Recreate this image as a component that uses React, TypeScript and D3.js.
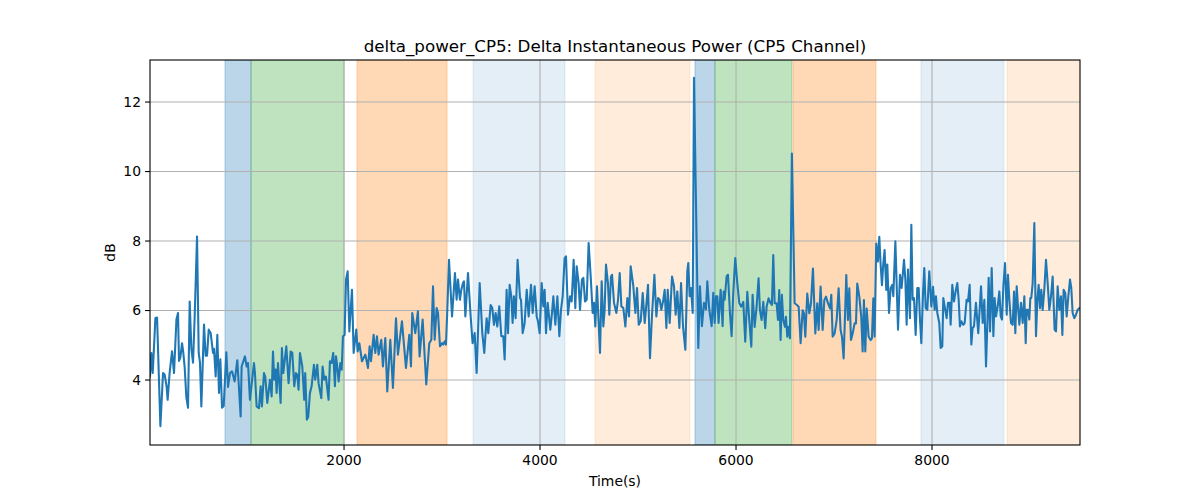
import React from 'react';
import * as d3 from 'd3';

// [time (s), dB]
const samples: [number, number][] = [
  [20, 4.1], [34, 4.78], [48, 4.2], [75, 5.78], [92, 5.8], [126, 2.67], [153, 4.2], [170, 4.15],
  [190, 3.8], [200, 3.43], [220, 4.2], [245, 4.83], [265, 4.2], [290, 5.75], [306, 5.93], [316, 4.55],
  [330, 4.65], [347, 5.06], [360, 4.78], [374, 4.36], [391, 3.5], [408, 3.2], [425, 6.26], [442, 4.9],
  [459, 4.5], [476, 5.83], [500, 8.13], [517, 4.78], [530, 4.5], [544, 3.24], [571, 5.6], [588, 4.7],
  [602, 4.7], [619, 5.45], [639, 5.35], [663, 4.78], [673, 4.9], [690, 4.1], [707, 5.3], [724, 3.63],
  [738, 4.6], [755, 3.2], [772, 3.25], [799, 4.8], [816, 3.8], [836, 4.2], [857, 4.25], [884, 3.96],
  [911, 4.57], [925, 3.9], [945, 2.95],
  [955, 4.39], [989, 4.68], [1006, 4.39], [1020, 4.49], [1040, 3.43], [1081, 4.49], [1091, 4.2],
  [1108, 3.24], [1132, 3.19], [1149, 3.82], [1162, 3.24], [1183, 4.2], [1196, 4.1], [1217, 3.34],
  [1244, 4.01], [1261, 3.53], [1275, 4.82], [1288, 4.01], [1302, 4.3], [1312, 3.63], [1326, 4.49],
  [1353, 3.34], [1366, 4.92], [1380, 4.2], [1411, 4.97], [1434, 3.91], [1455, 4.82], [1472, 4.78],
  [1492, 3.82], [1509, 4.2], [1523, 4.15], [1536, 3.72], [1550, 4.78], [1574, 4.39], [1594, 3.43],
  [1604, 4.2], [1621, 2.86], [1635, 2.95], [1652, 3.63], [1669, 3.82], [1693, 4.44], [1706, 4.01],
  [1727, 4.44], [1740, 3.91], [1768, 3.48], [1781, 4.39], [1798, 4.01], [1815, 4.1], [1842, 3.43],
  [1856, 4.54], [1873, 4.49], [1890, 4.78], [1907, 3.82],
  [1918, 4.68], [1931, 4.39], [1945, 3.96], [1962, 4.49], [1976, 4.3], [1989, 5.26], [2006, 5.3],
  [2020, 6.89], [2037, 7.13], [2054, 5.4], [2081, 6.6], [2098, 4.78], [2125, 5.45], [2139, 4.82],
  [2156, 5.06], [2183, 4.54], [2217, 4.73], [2244, 4.35], [2261, 4.97], [2275, 4.54], [2302, 5.3],
  [2319, 4.78], [2336, 5.26], [2353, 4.73], [2380, 5.16], [2397, 4.39], [2421, 5.21], [2441, 3.67],
  [2472, 5.16], [2499, 3.77], [2530, 5.78], [2550, 4.73], [2591, 5.69], [2632, 4.35], [2666, 5.3],
  [2683, 4.39], [2696, 5.93], [2727, 5.35], [2754, 5.98], [2771, 4.68], [2802, 5.74], [2839, 3.87],
  [2870, 5.06], [2891, 5.16], [2908, 6.7], [2925, 5.16], [2945, 6.07], [2959, 5.93], [2979, 4.97],
  [3000, 5.06], [3013, 5.02], [3027, 5.11], [3040, 5.02], [3054, 6.02], [3071, 7.46], [3102, 5.83],
  [3132, 7.08], [3149, 6.31], [3163, 6.89], [3183, 6.31], [3197, 6.6], [3214, 6.79], [3224, 6.84],
  [3238, 5.83], [3265, 7.08], [3292, 5.83], [3312, 5.06], [3333, 5.35], [3353, 4.2], [3384, 6.79],
  [3411, 5.35], [3431, 4.78], [3455, 5.78], [3472, 5.35], [3496, 6.16], [3513, 6.07], [3530, 5.59],
  [3547, 5.93], [3564, 5.54], [3584, 6.12], [3605, 5.26], [3625, 5.26], [3639, 4.59], [3659, 6.6],
  [3673, 5.35], [3690, 6.74], [3707, 6.41], [3720, 5.64], [3734, 6.41], [3751, 5.78], [3771, 7.46],
  [3796, 6.36], [3806, 6.31], [3823, 5.35], [3843, 5.64], [3864, 6.6], [3884, 5.83], [3908, 6.74],
  [3925, 5.93], [3945, 6.7], [3966, 5.83], [3979, 5.69], [3996, 5.35], [4017, 6.79], [4034, 6.12],
  [4047, 6.6], [4061, 5.35], [4078, 6.22], [4105, 5.45], [4122, 5.93], [4136, 6.41], [4156, 5.59],
  [4177, 6.41], [4197, 5.26], [4214, 6.02], [4231, 6.41], [4251, 7.51], [4265, 7.56], [4285, 5.88],
  [4306, 6.41], [4323, 6.26], [4343, 7.46], [4360, 6.07], [4374, 7.27], [4394, 6.79], [4408, 6.02],
  [4428, 6.89], [4442, 6.94], [4459, 6.26], [4476, 6.31], [4496, 7.94], [4517, 6.98], [4537, 5.93],
  [4551, 6.22], [4564, 5.54], [4581, 6.7], [4612, 4.78], [4629, 6.84], [4646, 5.54], [4659, 6.02],
  [4673, 7.32], [4693, 6.79], [4707, 5.88], [4724, 6.98],
  [4735, 7.03], [4755, 6.22], [4779, 5.93], [4796, 6.31], [4813, 7.08], [4830, 6.12], [4850, 6.07],
  [4871, 5.54], [4891, 6.36], [4908, 5.83], [4925, 7.27], [4952, 6.7], [4973, 5.93], [4990, 6.65],
  [5007, 5.59], [5027, 5.69], [5048, 6.5], [5068, 5.64], [5082, 6.07], [5102, 6.74], [5122, 4.63],
  [5143, 5.88], [5167, 7.03], [5187, 5.83], [5204, 6.36], [5221, 6.31], [5238, 6.02], [5258, 6.31],
  [5272, 6.6], [5289, 5.5], [5303, 6.6], [5323, 5.64], [5347, 6.98], [5367, 6.7], [5384, 5.88],
  [5401, 6.55], [5422, 5.5], [5439, 6.79], [5459, 5.54], [5483, 4.87], [5503, 7.13], [5513, 7.37],
  [5527, 6.41], [5541, 6.65], [5558, 5.93],
  [5571, 12.7], [5615, 4.92], [5632, 6.7], [5652, 5.55], [5673, 6.22], [5693, 6.03], [5707, 6.84],
  [5727, 6.03], [5751, 5.55], [5768, 6.51], [5782, 5.64], [5795, 6.41], [5809, 6.41], [5822, 5.64],
  [5843, 6.6], [5863, 5.55], [5873, 6.55], [5884, 6.31], [5904, 6.98], [5918, 7.03], [5938, 5.93],
  [5955, 5.26], [5972, 6.51], [5992, 7.51], [6013, 6.79], [6033, 6.22],
  [6054, 6.11], [6074, 6.25], [6094, 5.1], [6115, 6.54], [6135, 5.73], [6156, 4.96], [6169, 6.45],
  [6190, 5.53], [6210, 6.11], [6230, 6.93], [6244, 6.01], [6261, 5.73], [6278, 6.25], [6298, 5.49],
  [6312, 6.11], [6332, 6.35], [6353, 6.21], [6366, 6.16], [6380, 7.6], [6394, 6.21], [6414, 6.21],
  [6428, 5.73], [6441, 6.59], [6455, 5.15], [6468, 6.45], [6482, 5.73], [6499, 5.53], [6509, 5.82],
  [6523, 5.25], [6533, 5.53], [6550, 5.2], [6570, 10.52],
  [6598, 6.21], [6622, 6.16], [6639, 6.11], [6659, 5.06], [6680, 6.01], [6693, 5.92], [6707, 5.25],
  [6727, 6.49], [6748, 5.92], [6765, 6.21], [6785, 7.21], [6809, 5.34], [6829, 6.21], [6843, 5.44],
  [6863, 6.69], [6884, 5.44], [6901, 6.3], [6918, 6.4], [6938, 6.21], [6959, 6.06], [6972, 6.45],
  [6986, 5.25], [7006, 5.34], [7027, 5.73], [7047, 6.64], [7067, 5.44], [7081, 5.25], [7098, 4.62],
  [7115, 6.11], [7125, 7.02], [7142, 5.73], [7156, 6.64], [7173, 5.15], [7190, 5.34], [7210, 5.63],
  [7224, 5.63], [7237, 6.78], [7258, 6.4], [7278, 5.82], [7292, 4.82], [7305, 6.3], [7319, 4.82],
  [7333, 6.06], [7353, 5.25], [7373, 5.15], [7387, 5.2], [7401, 6.35], [7414, 5.25], [7431, 7.93],
  [7448, 7.41], [7462, 8.12], [7475, 7.36], [7489, 6.73], [7503, 7.36], [7516, 7.74], [7533, 6.59],
  [7544, 7.32], [7561, 5.93], [7578, 6.65], [7595, 6.74], [7605, 6.41], [7626, 7.99], [7653, 5.45],
  [7673, 7.03], [7690, 6.65], [7714, 7.46], [7728, 6.89], [7741, 5.59], [7755, 7.18], [7775, 5.78],
  [7789, 8.47], [7802, 6.31], [7816, 6.36], [7833, 5.3], [7850, 6.65], [7864, 6.65], [7877, 5.74],
  [7891, 5.06], [7908, 6.5], [7921, 7.22], [7935, 6.07], [7952, 6.02], [7972, 7.13], [7993, 6.12],
  [8010, 6.68], [8027, 6.02], [8040, 6.41], [8054, 5.93], [8074, 5.64], [8088, 4.92], [8105, 4.97],
  [8115, 6.36], [8129, 6.12], [8149, 5.78], [8163, 6.22], [8180, 6.22], [8190, 5.59], [8207, 6.74],
  [8224, 6.26], [8241, 6.55], [8258, 6.79], [8272, 6.31], [8285, 5.54], [8299, 5.69], [8319, 5.59],
  [8333, 5.64], [8353, 6.31], [8367, 6.26], [8384, 6.74], [8401, 5.02], [8414, 5.5], [8428, 5.54],
  [8448, 6.22], [8472, 5.35],
  [8500, 6.7], [8517, 5.64], [8534, 6.31], [8551, 4.39], [8568, 5.93], [8578, 6.94], [8592, 5.4],
  [8609, 7.22], [8626, 5.26], [8639, 6.36], [8653, 5.83], [8670, 6.12], [8687, 6.55], [8701, 5.83],
  [8714, 5.74], [8728, 6.7], [8745, 7.37], [8762, 5.88], [8775, 7.03], [8789, 6.31], [8806, 5.64],
  [8823, 5.59], [8837, 6.55], [8850, 5.35], [8864, 6.7], [8877, 6.12], [8891, 5.59], [8908, 6.22],
  [8925, 5.64], [8942, 6.41], [8956, 5.06], [8966, 6.02], [8979, 6.02], [8993, 5.74], [9003, 6.36],
  [9013, 6.36], [9027, 6.79], [9044, 8.52], [9061, 5.26], [9075, 6.31], [9088, 6.74], [9102, 6.07],
  [9115, 6.6], [9129, 6.02], [9146, 6.6], [9163, 7.46], [9180, 6.79], [9197, 6.02], [9214, 6.41],
  [9231, 6.98], [9251, 5.45], [9265, 5.4], [9282, 6.7], [9299, 6.02], [9316, 6.41], [9330, 5.3],
  [9343, 6.6], [9360, 6.5], [9374, 5.83], [9391, 6.41], [9408, 6.89], [9421, 6.65], [9435, 5.93],
  [9452, 5.78], [9469, 5.88], [9486, 6.02], [9503, 6.07], [9512, 6.07],
];

// shaded intervals
const spanStarts = [785, 1051, 2132, 3316, 4561, 5581, 5785, 6581, 7887, 8765];
const spanEnds = [1051, 2000, 3051, 4255, 5530, 5785, 6571, 7428, 8734, 9520];
const spanColors = ['#1f77b4', '#2ca02c', '#ff7f0e', '#1f77b4', '#ff7f0e', '#1f77b4', '#2ca02c', '#ff7f0e', '#1f77b4', '#ff7f0e'];
const spanAlphas = [0.3, 0.3, 0.3, 0.12, 0.15, 0.3, 0.3, 0.3, 0.12, 0.15];

const xTicks = [2000, 4000, 6000, 8000];
const yTicks = [4, 6, 8, 10, 12];

const W = 1200, H = 500;
const left = 150, right = 1080, top = 60, bottom = 445;
const font = 'DejaVu Sans, sans-serif';

const App: React.FC = () => {
  const x = d3.scaleLinear().domain([20, 9510]).range([left, right]);
  const y = d3.scaleLinear().domain([2.13, 13.21]).range([bottom, top]);

  const line = d3.line<[number, number]>()
    .x(d => x(d[0]))
    .y(d => y(d[1]));

  return (
    <svg width={W} height={H} style={{ position: 'absolute', left: 0, top: 0, background: '#fff' }}>
      <defs>
        <clipPath id="plot">
          <rect x={left} y={top} width={right - left} height={bottom - top} />
        </clipPath>
      </defs>
      <g clipPath="url(#plot)">
        {spanStarts.map((s, i) => (
          <rect key={i}
            x={x(s)} y={top} width={x(spanEnds[i]) - x(s)} height={bottom - top}
            fill={spanColors[i]} fillOpacity={spanAlphas[i]}
            stroke={spanColors[i]} strokeOpacity={spanAlphas[i]} strokeWidth={1} />
        ))}
        {xTicks.map(t => (
          <line key={t} x1={x(t)} x2={x(t)} y1={top} y2={bottom} stroke="#b0b0b0" strokeWidth={1.1} />
        ))}
        {yTicks.map(t => (
          <line key={t} x1={left} x2={right} y1={y(t)} y2={y(t)} stroke="#b0b0b0" strokeWidth={1.1} />
        ))}
        <path d={line(samples) ?? ''} fill="none" stroke="#1f77b4" strokeWidth={2.08} strokeLinejoin="round" strokeLinecap="square" />
      </g>
      <rect x={left} y={top} width={right - left} height={bottom - top} fill="none" stroke="#000" strokeWidth={1.1} />
      {xTicks.map(t => (
        <g key={t}>
          <line x1={x(t)} x2={x(t)} y1={bottom} y2={bottom + 4.9} stroke="#000" strokeWidth={1.1} />
          <text x={x(t)} y={bottom + 19.5} textAnchor="middle" fontSize={13.9} fontFamily={font} fill="#000">{t}</text>
        </g>
      ))}
      {yTicks.map(t => (
        <g key={t}>
          <line x1={left - 4.9} x2={left} y1={y(t)} y2={y(t)} stroke="#000" strokeWidth={1.1} />
          <text x={left - 9} y={y(t)} dy="0.35em" textAnchor="end" fontSize={13.9} fontFamily={font} fill="#000">{t}</text>
        </g>
      ))}
      <text x={(left + right) / 2} y={51.5} textAnchor="middle" fontSize={16.7} fontFamily={font} fill="#000">
        delta_power_CP5: Delta Instantaneous Power (CP5 Channel)
      </text>
      <text x={(left + right) / 2} y={486} textAnchor="middle" fontSize={13.9} fontFamily={font} fill="#000">Time(s)</text>
      <text transform={`translate(115,${(top + bottom) / 2}) rotate(-90)`} textAnchor="middle" fontSize={13.9} fontFamily={font} fill="#000">dB</text>
    </svg>
  );
};

export default App;
